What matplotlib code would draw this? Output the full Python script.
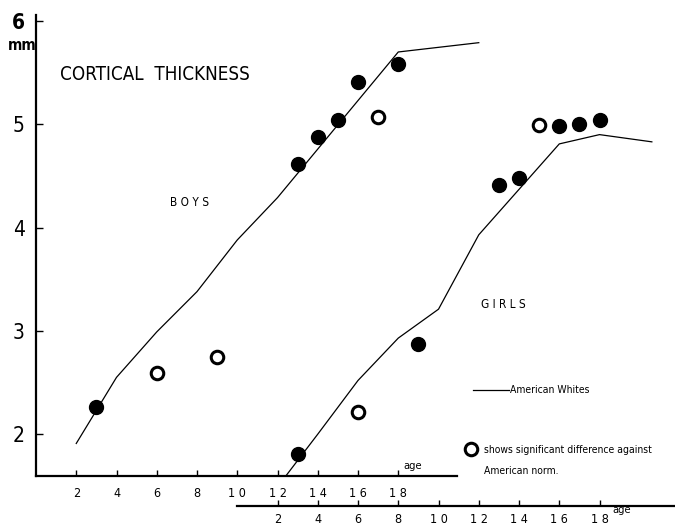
import matplotlib
matplotlib.use("Agg")
import matplotlib.pyplot as plt

plt.rcParams["font.family"] = ["DejaVu Sans"]
plt.rcParams["font.stretch"] = "condensed"

# American Whites norm (lines)
boys_norm_age = [2, 4, 6, 8, 10, 12, 14, 16, 18, 22]
boys_norm_mm = [1.91, 2.55, 2.99, 3.38, 3.88, 4.29, 4.76, 5.23, 5.70, 5.79]
girls_norm_age = [2, 4, 6, 8, 10, 12, 14, 16, 18, 20.6]
girls_norm_mm = [1.49, 2.0, 2.52, 2.93, 3.21, 3.93, 4.37, 4.81, 4.90, 4.83]

# measured values; sig = significant difference against American norm (open)
boys_age = [3, 6, 9, 13, 14, 15, 16, 17, 18]
boys_mm = [2.26, 2.59, 2.75, 4.62, 4.88, 5.04, 5.41, 5.07, 5.58]
boys_sig = [False, True, True, False, False, False, False, True, False]
girls_age = [3, 6, 9, 13, 14, 15, 16, 17, 18]
girls_mm = [1.81, 2.21, 2.87, 4.41, 4.48, 4.99, 4.98, 5.00, 5.04]
girls_sig = [False, True, False, False, False, True, False, False, False]

age_ticks = [2, 4, 6, 8, 10, 12, 14, 16, 18]
age_labels = ["2", "4", "6", "8", "1 0", "1 2", "1 4", "1 6", "1 8"]
mm_ticks = [2, 3, 4, 5, 6]


def draw_points(axis, ages, vals, sig):
    for a, v, s in zip(ages, vals, sig):
        if s:
            axis.plot(a, v, "o", ms=9, mfc="white", mec="black", mew=2.2)
        else:
            axis.plot(a, v, "o", ms=10, color="black")


fig = plt.figure(figsize=(6.75, 5.26), dpi=100)
ax = fig.add_axes([36 / 675, 50 / 526, 639 / 675, 461 / 526])
ax.set_xlim(0, 31.75)
ax.set_ylim(1.595, 6.058)

ax.plot(boys_norm_age, boys_norm_mm, color="black", lw=0.9)
draw_points(ax, boys_age, boys_mm, boys_sig)

for s in ["top", "right"]:
    ax.spines[s].set_visible(False)
ax.spines["left"].set_linewidth(1.6)
ax.spines["bottom"].set_linewidth(1.6)
ax.spines["bottom"].set_bounds(0, 20.9)
ax.set_xticks(age_ticks)
ax.set_xticklabels(age_labels)
ax.set_yticks(mm_ticks)
ax.set_yticklabels([str(t) for t in mm_ticks])
ax.tick_params(axis="x", direction="in", length=4, width=1, pad=8, labelsize=9)
ax.tick_params(axis="y", direction="in", length=5, width=1, pad=8, labelsize=15)
ax.get_yticklabels()[-1].set_fontweight("bold")

# girls: same scale, shifted 10 years, axis below
axg = ax.twiny()
axg.set_xlim(-10, 21.75)
axg.xaxis.set_ticks_position("bottom")
for s in ["top", "right", "left"]:
    axg.spines[s].set_visible(False)
axg.spines["bottom"].set_position(("outward", 21.6))
axg.spines["bottom"].set_linewidth(1.6)
axg.spines["bottom"].set_bounds(0, 21.75)
axg.set_xticks(age_ticks)
axg.set_xticklabels(age_labels)
axg.tick_params(axis="x", direction="in", length=4, width=1, pad=5, labelsize=9)
axg.plot(girls_norm_age, girls_norm_mm, color="black", lw=0.9)
draw_points(axg, girls_age, girls_mm, girls_sig)

# texts
fig.text(22 / 675, 1 - 45 / 526, "mm", fontsize=11, fontweight="bold",
         ha="center", va="center")
fig.text(60 / 675, 1 - 75 / 526, "CORTICAL  THICKNESS", fontsize=13.5,
         ha="left", va="center")
fig.text(190 / 675, 1 - 202 / 526, "B O Y S", fontsize=8.5, ha="center", va="center")
fig.text(503 / 675, 1 - 304 / 526, "G I R L S", fontsize=8.5, ha="center", va="center")
fig.text(413 / 675, 1 - 466 / 526, "age", fontsize=8, ha="center", va="center")
fig.text(622 / 675, 1 - 510 / 526, "age", fontsize=8, ha="center", va="center")

# legend
fig.lines.append(plt.Line2D([473 / 675, 509 / 675], [1 - 390 / 526] * 2,
                            transform=fig.transFigure, color="black", lw=0.9))
fig.text(510 / 675, 1 - 390 / 526, "American Whites", fontsize=7.5,
         ha="left", va="center")
fig.lines.append(plt.Line2D([471 / 675], [1 - 449 / 526], marker="o", ms=9,
                            mfc="white", mec="black", mew=2.2, ls="none",
                            transform=fig.transFigure))
fig.text(484 / 675, 1 - 450 / 526, "shows significant difference against",
         fontsize=7.5, ha="left", va="center")
fig.text(484 / 675, 1 - 471 / 526, "American norm.", fontsize=7.5,
         ha="left", va="center")

fig.savefig("out.png", dpi=100, facecolor="white")
